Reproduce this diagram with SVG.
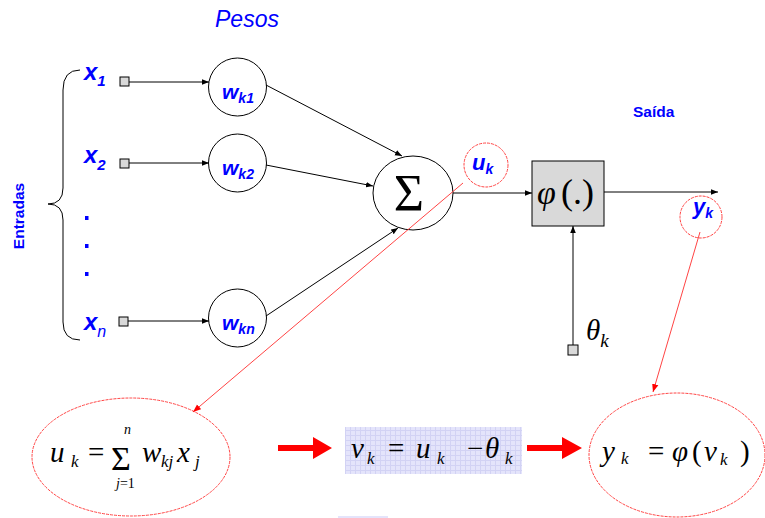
<svg xmlns="http://www.w3.org/2000/svg" width="765" height="518" viewBox="0 0 765 518">
<defs>
<marker id="ah" viewBox="0 0 10 10" refX="10" refY="5" markerWidth="7" markerHeight="7" orient="auto" markerUnits="userSpaceOnUse"><path d="M0,1 L10,5 L0,9 z" fill="#000"/></marker>
<marker id="rh" viewBox="0 0 10 10" refX="10" refY="5" markerWidth="8" markerHeight="8" orient="auto" markerUnits="userSpaceOnUse"><path d="M0,1 L10,5 L0,9 z" fill="#f00"/></marker>
<pattern id="grid" width="5" height="5" patternUnits="userSpaceOnUse"><rect width="5" height="5" fill="#e4e4fb"/><path d="M0,0.5 H5 M0.5,0 V5" stroke="#d2d2f4" stroke-width="1"/></pattern>
<style>
.node{fill:#fff;stroke:#000;stroke-width:1}
.sq{fill:#d9d9d9;stroke:#000;stroke-width:1}
.wire{stroke:#000;stroke-width:1;fill:none}
.red{stroke:#f44;stroke-width:1;fill:none}
.rc{fill:none;stroke:#f44;stroke-width:1;stroke-dasharray:3 1}
.lab{font-family:"Liberation Sans",Arial,sans-serif;font-style:italic;font-weight:bold;fill:#0000ff}
.math{font-family:"Liberation Serif","Times New Roman",serif;font-style:italic;fill:#000}
.up{font-style:normal}
</style>
</defs>

<text x="215" y="27" font-family="'Liberation Sans',Arial,sans-serif" font-style="italic" font-size="23" fill="#0000ff">Pesos</text>
<text transform="translate(24,216) rotate(-90)" text-anchor="middle" font-family="'Liberation Sans',Arial,sans-serif" font-weight="bold" font-size="15.5" fill="#0000ff">Entradas</text>
<text x="633" y="117" font-family="'Liberation Sans',Arial,sans-serif" font-weight="bold" font-size="15.5" fill="#0000ff">Saída</text>

<path id="brace" class="wire" d="M80,70 Q63,70 63,90 L63,188 Q63,204 48,204 Q63,204 63,220 L63,322 Q63,340 80,340"/>

<g id="inputs">
<text class="lab" x="84" y="80" font-size="24">x<tspan font-size="15" dy="6">1</tspan></text>
<text class="lab" x="84" y="163" font-size="24">x<tspan font-size="15" dy="7">2</tspan></text>
<text class="lab" x="84" y="330" font-size="24">x<tspan font-size="16" font-weight="normal" dy="7">n</tspan></text>
<rect x="85" y="216" width="3.5" height="4" fill="#0000ff"/>
<rect x="85" y="244" width="3.5" height="4" fill="#0000ff"/>
<rect x="85" y="272" width="3.5" height="4" fill="#0000ff"/>
<rect class="sq" x="120" y="77" width="9" height="9"/>
<rect class="sq" x="120" y="159" width="9" height="9"/>
<rect class="sq" x="119" y="317" width="9" height="9"/>
</g>

<g id="wk1">
<circle class="node" cx="237.5" cy="87" r="29"/>
<text class="lab" x="222" y="99" font-size="21">w<tspan font-size="14" dy="4">k1</tspan></text>
</g>
<g id="wk2">
<circle class="node" cx="237.5" cy="163" r="29"/>
<text class="lab" x="222" y="175" font-size="21">w<tspan font-size="14" dy="4">k2</tspan></text>
</g>
<g id="wkn">
<circle class="node" cx="237.5" cy="318" r="29"/>
<text class="lab" x="222" y="330" font-size="21">w<tspan font-size="14" dy="4">kn</tspan></text>
</g>

<g id="sum">
<ellipse class="node" cx="413" cy="193" rx="40" ry="37"/>
<text x="409" y="211" text-anchor="middle" font-family="'Liberation Serif','Times New Roman',serif" font-size="52">Σ</text>
</g>

<g id="uk">
<circle class="rc" cx="486" cy="165" r="22"/>
<text class="lab" x="472" y="170" font-size="22">u<tspan font-size="14" dy="4">k</tspan></text>
</g>

<g id="phi">
<rect class="sq" x="532" y="161" width="72" height="65"/>
<text class="math" x="537" y="204" font-size="34">φ<tspan class="up" x="561" font-size="36">(.)</tspan></text>
</g>

<g id="yk">
<circle class="rc" cx="701" cy="217" r="21"/>
<text class="lab" x="693" y="214" font-size="22">y<tspan font-size="14" dy="4">k</tspan></text>
</g>

<g id="theta">
<rect class="sq" x="568" y="345" width="10" height="10"/>
<text class="math" x="586" y="340" font-size="29">θ<tspan font-size="19" dy="7">k</tspan></text>
</g>

<g id="eq-u">
<ellipse class="rc" cx="131" cy="457" rx="99" ry="59"/>
<text class="math" x="50" y="462" font-size="29">u<tspan font-size="17" x="71" dy="5">k</tspan><tspan class="up" x="88" dy="-5">=</tspan></text>
<text x="111" y="470" font-family="'Liberation Serif',serif" font-size="34">Σ</text>
<text class="math" x="124" y="434" font-size="14">n</text>
<text class="math" x="116" y="488" font-size="14">j<tspan class="up">=1</tspan></text>
<text class="math" x="142" y="462" font-size="29">w<tspan font-size="17" x="161" dy="5">kj</tspan><tspan x="177" dy="-5">x</tspan><tspan font-size="17" x="195" dy="5">j</tspan></text>
</g>

<g id="arrow1"><path d="M278,445 H313 V437 L332,448 L313,459 V451 H278 Z" fill="#f00"/></g>

<g id="eq-v">
<rect x="345" y="427" width="177" height="47" fill="url(#grid)"/>
<text class="math" x="351" y="458" font-size="29">v<tspan font-size="17" x="367" dy="6">k</tspan><tspan class="up" x="388" dy="-6">=</tspan><tspan x="416">u</tspan><tspan font-size="17" x="437" dy="6">k</tspan><tspan class="up" x="467" dy="-6">−</tspan><tspan x="485">θ</tspan><tspan font-size="17" x="505" dy="6">k</tspan></text>
</g>

<g id="arrow2"><path d="M527,445 H562 V437 L582,448 L562,459 V451 H527 Z" fill="#f00"/></g>

<g id="eq-y">
<ellipse class="rc" cx="677" cy="455" rx="88" ry="62"/>
<text class="math" x="602" y="461" font-size="29">y<tspan font-size="17" x="621" dy="3">k</tspan><tspan class="up" x="648" dy="-3">=</tspan><tspan x="672">φ</tspan><tspan class="up" x="692">(</tspan><tspan x="704">v</tspan><tspan font-size="17" x="720" dy="4">k</tspan><tspan class="up" x="740" dy="-4">)</tspan></text>
</g>

<rect x="338" y="516" width="50" height="2" fill="#e4e4fb"/>

<g id="connectors">
<line class="wire" x1="129" y1="82" x2="209" y2="82" marker-end="url(#ah)"/>
<line class="wire" x1="129" y1="163" x2="209" y2="163" marker-end="url(#ah)"/>
<line class="wire" x1="128" y1="321" x2="209" y2="321" marker-end="url(#ah)"/>
<line class="wire" x1="266" y1="85" x2="402" y2="156" marker-end="url(#ah)"/>
<line class="wire" x1="266" y1="165" x2="373" y2="186" marker-end="url(#ah)"/>
<line class="wire" x1="266" y1="316" x2="398" y2="228" marker-end="url(#ah)"/>
<line class="wire" x1="453" y1="193" x2="532" y2="193" marker-end="url(#ah)"/>
<line class="wire" x1="604" y1="192" x2="718" y2="192" marker-end="url(#ah)"/>
<line class="wire" x1="573" y1="345" x2="573" y2="226" marker-end="url(#ah)"/>
<line class="red" x1="463" y1="183" x2="193" y2="412" marker-end="url(#rh)"/>
<line class="red" x1="700" y1="232" x2="653" y2="392" marker-end="url(#rh)"/>
</g>
</svg>
